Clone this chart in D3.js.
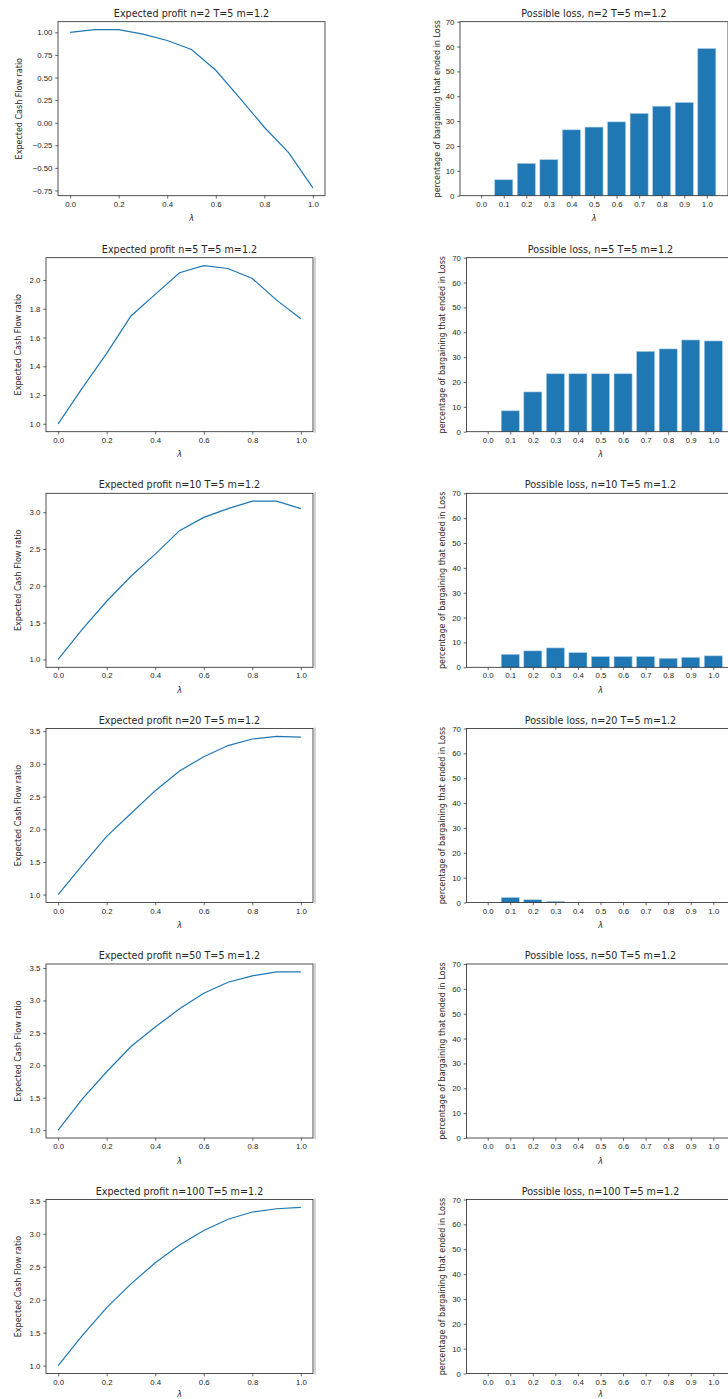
<!DOCTYPE html>
<html>
<head>
<meta charset="utf-8">
<script src="https://cdn.jsdelivr.net/npm/d3@7"></script>
<style>
    body { margin: 0; background: #fff; }
    svg { display: block; font-family: "DejaVu Sans", sans-serif; }
    .tick text { fill: #262626; }
    .tick line { stroke: #262626; }
</style>
</head>
<body>
<div id="figure"></div>
<script>

// lambda values and bar category labels
const lambdas = [0.0, 0.1, 0.2, 0.3, 0.4, 0.5, 0.6, 0.7, 0.8, 0.9, 1.0];
const lambdaLabels = ["0.0", "0.1", "0.2", "0.3", "0.4", "0.5", "0.6", "0.7", "0.8", "0.9", "1.0"];
const nValues = [2, 5, 10, 20, 50, 100];

// expected cash flow ratio per n
const profitN2 = [1.00, 1.03, 1.03, 0.98, 0.91, 0.81, 0.58, 0.27, -0.05, -0.33, -0.72];
const profitN5 = [1.00, 1.25, 1.49, 1.75, 1.90, 2.05, 2.10, 2.08, 2.01, 1.86, 1.73];
const profitN10 = [1.00, 1.41, 1.79, 2.13, 2.43, 2.75, 2.93, 3.05, 3.15, 3.15, 3.05];
const profitN20 = [1.00, 1.45, 1.89, 2.24, 2.59, 2.89, 3.11, 3.28, 3.38, 3.42, 3.41];
const profitN50 = [1.00, 1.48, 1.90, 2.29, 2.59, 2.87, 3.11, 3.28, 3.38, 3.44, 3.44];
const profitN100 = [1.00, 1.46, 1.88, 2.24, 2.56, 2.83, 3.05, 3.22, 3.33, 3.38, 3.40];

// percentage of bargaining that ended in loss per n
const lossN2 = [0, 6.4, 13.0, 14.5, 26.5, 27.6, 29.7, 33.1, 36.0, 37.5, 59.2];
const lossN5 = [0, 8.4, 16.0, 23.3, 23.3, 23.3, 23.3, 32.3, 33.3, 36.9, 36.5];
const lossN10 = [0, 5.2, 6.6, 7.8, 5.9, 4.3, 4.3, 4.3, 3.6, 4.0, 4.6];
const lossN20 = [0, 2.0, 1.1, 0.4, 0, 0, 0, 0, 0, 0, 0];
const lossN50 = [0, 0, 0, 0, 0, 0, 0, 0, 0, 0, 0];
const lossN100 = [0, 0, 0, 0, 0, 0, 0, 0, 0, 0, 0];

// tick values
const xTicksProfit = [0.0, 0.2, 0.4, 0.6, 0.8, 1.0];
const yTicksN2 = [-0.75, -0.50, -0.25, 0.00, 0.25, 0.50, 0.75, 1.00];
const yTicksN5 = [1.0, 1.2, 1.4, 1.6, 1.8, 2.0];
const yTicksN10 = [1.0, 1.5, 2.0, 2.5, 3.0];
const yTicksN20 = [1.0, 1.5, 2.0, 2.5, 3.0, 3.5];
const yTicksLoss = [0, 10, 20, 30, 40, 50, 60, 70];

const profits = [profitN2, profitN5, profitN10, profitN20, profitN50, profitN100];
const losses = [lossN2, lossN5, lossN10, lossN20, lossN50, lossN100];
const profitTicks = [yTicksN2, yTicksN5, yTicksN10, yTicksN20, yTicksN20, yTicksN20];
const profitFormats = [".2f", ".1f", ".1f", ".1f", ".1f", ".1f"];

const BLUE = "#1f77b4";
const FIG_H = 1399;

class ProfitLossRow {

    /**
     * One row of the figure: line chart on the left, bar chart on the right
     *
     * @param svg the figure svg
     * @param layout positions of the two axes boxes
     */
    constructor(svg, layout) {
        this.svg = svg;
        this.layout = layout;
        this.width = 267;
        this.barWidth = 268;
        this.height = 174;
        this.tickSize = 2.8;
    }

    styleAxis(g) {
        g.select(".domain").remove();
        g.selectAll("text").attr("font-size", 7.8);
        g.selectAll("line").attr("stroke-width", 0.7);
    }

    drawFrame(group, w, h) {
        group.append("rect")
            .attr("width", w)
            .attr("height", h)
            .attr("fill", "none")
            .attr("stroke", "#262626")
            .attr("stroke-width", 0.8);
    }

    drawLabels(group, w, title, ylabel, ylabelX) {
        group.append("text")
            .attr("x", w / 2)
            .attr("y", -4.9)
            .attr("text-anchor", "middle")
            .attr("font-size", 9.6)
            .attr("fill", "#262626")
            .text(title);

        group.append("text")
            .attr("transform", "translate(" + ylabelX + "," + (this.height / 2) + ") rotate(-90)")
            .attr("text-anchor", "middle")
            .attr("dy", "0.35em")
            .attr("font-size", 8)
            .attr("fill", "#262626")
            .text(ylabel);

        // keep the lambda of the last row inside the picture
        let lamY = Math.min(this.height + 25.5, FIG_H - 2 - this.layout.top);
        group.append("text")
            .attr("x", w / 2)
            .attr("y", lamY)
            .attr("text-anchor", "middle")
            .attr("font-size", 8)
            .attr("font-style", "italic")
            .attr("fill", "#262626")
            .text("λ");
    }

    drawProfit(n, values, ticks, fmt) {
        let lay = this.layout;
        let group = this.svg.append("g")
            .attr("transform", "translate(" + lay.left + "," + lay.top + ")");

        // matplotlib style 5% margins around the data
        let xScale = d3.scaleLinear().domain([-0.05, 1.05]).range([0, this.width]);
        let ext = d3.extent(values);
        let pad = (ext[1] - ext[0]) * 0.05;
        let yScale = d3.scaleLinear().domain([ext[0] - pad, ext[1] + pad]).range([this.height, 0]);

        group.append("g")
            .attr("transform", "translate(0," + this.height + ")")
            .call(d3.axisBottom(xScale).tickValues(xTicksProfit).tickFormat(d3.format(".1f"))
                .tickSize(this.tickSize).tickPadding(2.8))
            .call(g => this.styleAxis(g));

        group.append("g")
            .call(d3.axisLeft(yScale).tickValues(ticks).tickFormat(d3.format(fmt))
                .tickSize(this.tickSize).tickPadding(2.8))
            .call(g => this.styleAxis(g));

        let line = d3.line()
            .x((d, i) => xScale(lambdas[i]))
            .y(d => yScale(d));

        group.append("path")
            .datum(values)
            .attr("d", line)
            .attr("fill", "none")
            .attr("stroke", BLUE)
            .attr("stroke-width", 1.2);

        this.drawFrame(group, this.width, this.height);

        // faint grey edge next to the frame in the lower rows
        if (lay.shadow) {
            group.append("line")
                .attr("x1", this.width + 2).attr("x2", this.width + 2)
                .attr("y1", -1).attr("y2", this.height + 1)
                .attr("stroke", "#c6c6c6")
                .attr("stroke-width", 1.5);
        }

        this.drawLabels(group, this.width, "Expected profit n=" + n + " T=5 m=1.2",
            "Expected Cash Flow ratio", lay.yLabelLeft);
    }

    drawLoss(n, values) {
        let lay = this.layout;
        let group = this.svg.append("g")
            .attr("transform", "translate(" + lay.barLeft + "," + lay.top + ")");

        // bars of width 0.8 at integer positions, plus 5% margins
        let idx = d3.range(lambdaLabels.length);
        let lo = -0.4, hi = idx.length - 1 + 0.4;
        let m = (hi - lo) * 0.05;
        let xScale = d3.scaleLinear().domain([lo - m, hi + m]).range([0, this.barWidth]);
        let yScale = d3.scaleLinear().domain([0, 70]).range([this.height, 0]);

        group.append("g")
            .attr("transform", "translate(0," + this.height + ")")
            .call(d3.axisBottom(xScale).tickValues(idx).tickFormat(i => lambdaLabels[i])
                .tickSize(this.tickSize).tickPadding(2.8))
            .call(g => this.styleAxis(g));

        group.append("g")
            .call(d3.axisLeft(yScale).tickValues(yTicksLoss).tickFormat(d3.format("d"))
                .tickSize(this.tickSize).tickPadding(2.8))
            .call(g => this.styleAxis(g));

        group.selectAll("rect.bar")
            .data(values.map((v, i) => ({v: v, i: i})).filter(d => d.v > 0))
            .enter().append("rect")
            .classed("bar", true)
            .attr("x", d => xScale(d.i - 0.4))
            .attr("width", d => xScale(d.i + 0.4) - xScale(d.i - 0.4))
            .attr("y", d => yScale(d.v))
            .attr("height", d => yScale(0) - yScale(d.v))
            .attr("fill", BLUE)
            .attr("stroke", "#a8cbe6")
            .attr("stroke-width", 0.6);

        this.drawFrame(group, this.barWidth, this.height);

        this.drawLabels(group, this.barWidth, "Possible loss, n=" + n + " T=5 m=1.2",
            "percentage of bargaining that ended in Loss", lay.yLabelBar);
    }
}

let svg = d3.select("#figure").append("svg")
    .attr("width", 728)
    .attr("height", FIG_H);

svg.append("rect").attr("width", 728).attr("height", FIG_H).attr("fill", "#fff");

// axes boxes for each row (first row is shifted by the wider tick labels)
let rowTops = [21.7, 257.7, 493.3, 728.5, 964, 1199.5];

nValues.forEach(function(n, r) {
    let layout = r == 0
        ? {top: rowTops[r], left: 58, barLeft: 460, yLabelLeft: -39, yLabelBar: -23, shadow: false}
        : {top: rowTops[r], left: 46, barLeft: 466.5, yLabelLeft: -27.7, yLabelBar: -24.2, shadow: true};
    let row = new ProfitLossRow(svg, layout);
    row.drawProfit(n, profits[r], profitTicks[r], profitFormats[r]);
    row.drawLoss(n, losses[r]);
});

</script>
</body>
</html>
